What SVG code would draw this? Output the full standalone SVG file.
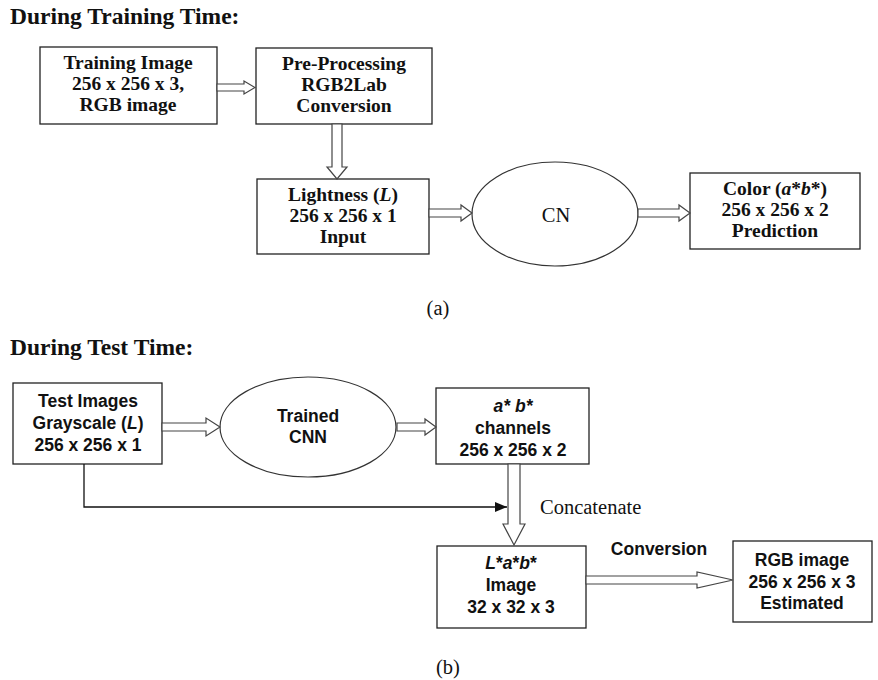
<svg xmlns="http://www.w3.org/2000/svg" width="878" height="680" viewBox="0 0 878 680">
<style>
.box{fill:#fff;stroke:#222;stroke-width:1.3}
.ell{fill:#fff;stroke:#333;stroke-width:1.2}
.harrow{fill:#fff;stroke:#444;stroke-width:1.2;stroke-linejoin:miter}
.ttl{font-family:"Liberation Serif",serif;font-weight:bold;font-size:23.5px;fill:#111}
.sb{font-family:"Liberation Serif",serif;font-weight:bold;font-size:19.5px;fill:#111;text-anchor:middle}
.sn{font-family:"Liberation Serif",serif;font-size:20.5px;fill:#111}
.ss{font-family:"Liberation Sans",sans-serif;font-weight:bold;font-size:17.5px;fill:#111;text-anchor:middle}
</style>
<defs>
<marker id="tri" markerWidth="12" markerHeight="10" refX="12" refY="5" orient="auto" markerUnits="userSpaceOnUse">
<path d="M0,0 L12,5 L0,10 Z" fill="#111"/>
</marker>
</defs>

<text class="ttl" x="10" y="24">During Training Time:</text>
<text class="ttl" x="10" y="355">During Test Time:</text>

<g id="training-image">
<rect class="box" x="40" y="47" width="177" height="77"/>
<text class="sb" x="128" y="69">Training Image</text>
<text class="sb" x="128" y="90">256 x 256 x 3,</text>
<text class="sb" x="128" y="111">RGB image</text>
</g>
<g id="preprocessing">
<rect class="box" x="256" y="48" width="176" height="76"/>
<text class="sb" x="344" y="70">Pre-Processing</text>
<text class="sb" x="344" y="91">RGB2Lab</text>
<text class="sb" x="344" y="112">Conversion</text>
</g>
<g id="lightness">
<rect class="box" x="257" y="179" width="172" height="75"/>
<text class="sb" x="343" y="201">Lightness (<tspan font-style="italic">L</tspan>)</text>
<text class="sb" x="343" y="222">256 x 256 x 1</text>
<text class="sb" x="343" y="243">Input</text>
</g>
<g id="cn">
<ellipse class="ell" cx="555" cy="214" rx="83" ry="52"/>
<text class="sn" x="556" y="222" text-anchor="middle" font-size="25">CN</text>
</g>
<g id="color">
<rect class="box" x="690" y="173" width="170" height="76"/>
<text class="sb" x="775" y="195">Color (<tspan font-style="italic">a</tspan>*<tspan font-style="italic">b</tspan>*)</text>
<text class="sb" x="775" y="216">256 x 256 x 2</text>
<text class="sb" x="775" y="237">Prediction</text>
</g>
<text class="sn" x="438" y="315" text-anchor="middle">(a)</text>

<g id="test-images">
<rect class="box" x="13" y="383" width="149" height="81"/>
<text class="ss" x="88" y="407">Test Images</text>
<text class="ss" x="88" y="429">Grayscale (<tspan font-style="italic">L</tspan>)</text>
<text class="ss" x="88" y="451">256 x 256 x 1</text>
</g>
<g id="trained-cnn">
<ellipse class="ell" cx="308" cy="427" rx="88" ry="50"/>
<text class="ss" x="308" y="422">Trained</text>
<text class="ss" x="308" y="443">CNN</text>
</g>
<g id="ab-channels">
<rect class="box" x="436" y="388" width="153" height="76"/>
<text class="ss" x="513" y="412" font-style="italic">a* b*</text>
<text class="ss" x="513" y="434">channels</text>
<text class="ss" x="513" y="456">256 x 256 x 2</text>
</g>
<g id="lab-image">
<rect class="box" x="437" y="546" width="149" height="82"/>
<text class="ss" x="511" y="569"><tspan font-style="italic">L</tspan>*<tspan font-style="italic">a</tspan>*<tspan font-style="italic">b</tspan>*</text>
<text class="ss" x="511" y="591">Image</text>
<text class="ss" x="511" y="613">32 x 32 x 3</text>
</g>
<g id="rgb-image">
<rect class="box" x="733" y="541" width="139" height="81"/>
<text class="ss" x="802" y="566">RGB image</text>
<text class="ss" x="802" y="588">256 x 256 x 3</text>
<text class="ss" x="802" y="609">Estimated</text>
</g>
<text class="sn" x="448" y="674" text-anchor="middle">(b)</text>

<g id="connectors">
<polygon class="harrow" points="217,84 244,84 244,81 255,87.5 244,94 244,91 217,91"/>
<polygon class="harrow" points="332,124 332,167 327,167 337,179 347,167 342,167 342,124"/>
<polygon class="harrow" points="429,209 461,209 461,205 472,213 461,221 461,217 429,217"/>
<polygon class="harrow" points="638,209 679,209 679,205 690,213 679,221 679,217 638,217"/>
<polygon class="harrow" points="162,423 206,423 206,418 220,427 206,436 206,431 162,431"/>
<polygon class="harrow" points="397,423 425,423 425,419 436,427 425,435 425,431 397,431"/>
<polygon class="harrow" points="508,464 508,524 503,524 514,545 525,524 520,524 520,464"/>
<polyline points="84,464 84,507 507,507" fill="none" stroke="#111" stroke-width="1.3" marker-end="url(#tri)"/>
<text class="sn" x="540" y="514">Concatenate</text>
<polygon class="harrow" points="586,576 697,576 697,572 733,580 697,588 697,584 586,584"/>
<text class="ss" x="659" y="555">Conversion</text>
</g>
</svg>
